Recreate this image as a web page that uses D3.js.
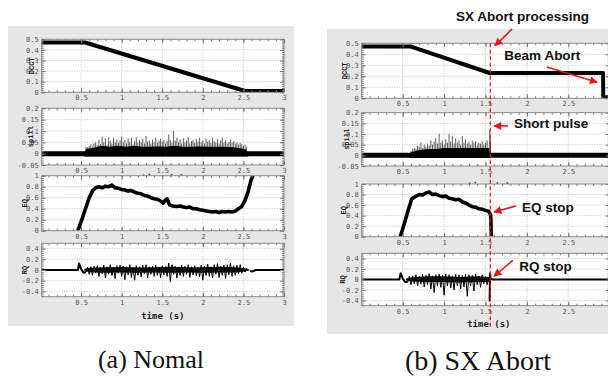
<!DOCTYPE html>
<html>
<head>
<meta charset="utf-8">
<script src="https://cdn.jsdelivr.net/npm/d3@7"></script>
<style>
  body { margin: 0; background: #fff; }
  svg { display: block; }
</style>
</head>
<body>
<svg id="chart" width="608" height="379"></svg>
<script>
// ---- tick labels ----
const timeTicks = [0.5, 1, 1.5, 2, 2.5, 3];
const dcctTicks = [0, 0.1, 0.2, 0.3, 0.4, 0.5];
const spillTicks = [-0.05, 0, 0.05, 0.1, 0.15, 0.2];
const eqTicks = [0, 0.2, 0.4, 0.6, 0.8, 1];
const rqTicks = [-0.4, -0.2, 0, 0.2, 0.4];

// ---- (a) normal extraction ----
const dcctA = [[0, 0.47], [0.55, 0.47], [2.52, 0.012], [3, 0.012]];
const spillBaseA = [[0, 0], [3, 0]];
const spillCoreA = [[0.54, 0], [0.56, 0.02], [0.65, 0.025], [0.75, 0.035], [0.85, 0.03], [0.95, 0.035], [1.05, 0.03], [1.15, 0.035], [1.25, 0.03], [1.35, 0.03], [1.45, 0.032], [1.55, 0.03], [1.65, 0.035], [1.75, 0.03], [1.85, 0.03], [1.95, 0.032], [2.05, 0.03], [2.15, 0.03], [2.25, 0.03], [2.35, 0.028], [2.45, 0.025], [2.53, 0.018], [2.56, 0]];
const spillPeakStartA = 0.56; // s, one peak every 0.02 s
const spillPeakA = [
  0.03, 0.028, 0.035, 0.04, 0.032, 0.045, 0.05, 0.038, 0.06, 0.042,
  0.075, 0.05, 0.068, 0.04, 0.072, 0.055, 0.045, 0.07, 0.05, 0.062,
  0.048, 0.058, 0.075, 0.05, 0.06, 0.045, 0.068, 0.052, 0.07, 0.04,
  0.055, 0.072, 0.048, 0.06, 0.05, 0.065, 0.045, 0.078, 0.052, 0.058,
  0.045, 0.062, 0.05, 0.07, 0.048, 0.058, 0.065, 0.052, 0.06, 0.045,
  0.055, 0.085, 0.06, 0.048, 0.1, 0.058, 0.07, 0.05, 0.062, 0.045,
  0.068, 0.05, 0.058, 0.072, 0.045, 0.055, 0.06, 0.048, 0.065, 0.052,
  0.07, 0.05, 0.058, 0.045, 0.066, 0.052, 0.06, 0.048, 0.07, 0.055,
  0.05, 0.065, 0.045, 0.058, 0.07, 0.05, 0.06, 0.045, 0.052, 0.062,
  0.048, 0.055, 0.045, 0.05, 0.04, 0.048, 0.042, 0.035, 0.04, 0.03
];
const eqA = [[0.46, 0], [0.5, 0.16], [0.55, 0.38], [0.6, 0.6], [0.64, 0.72], [0.68, 0.78], [0.72, 0.8], [0.76, 0.78], [0.8, 0.81], [0.84, 0.8], [0.88, 0.83], [0.92, 0.78], [0.96, 0.77], [1.0, 0.75], [1.04, 0.74], [1.08, 0.72], [1.12, 0.73], [1.16, 0.7], [1.2, 0.68], [1.24, 0.67], [1.28, 0.64], [1.32, 0.63], [1.36, 0.6], [1.4, 0.58], [1.44, 0.57], [1.48, 0.54], [1.51, 0.5], [1.54, 0.56], [1.56, 0.58], [1.59, 0.47], [1.63, 0.45], [1.68, 0.44], [1.72, 0.45], [1.76, 0.43], [1.8, 0.42], [1.84, 0.43], [1.88, 0.4], [1.92, 0.4], [1.96, 0.38], [2.0, 0.37], [2.04, 0.36], [2.08, 0.35], [2.12, 0.34], [2.16, 0.35], [2.2, 0.33], [2.24, 0.35], [2.28, 0.34], [2.32, 0.35], [2.36, 0.34], [2.4, 0.36], [2.44, 0.4], [2.48, 0.44], [2.52, 0.55], [2.56, 0.72], [2.59, 0.9], [2.62, 1.02]];
const rqHeadA = [[0, 0], [0.46, 0], [0.475, 0.12], [0.5, 0.02], [0.53, -0.05], [0.56, -0.04]];
const rqCoreA = [[0.54, -0.02, 0.02], [0.6, -0.04, 0.04], [0.8, -0.05, 0.05], [1.0, -0.045, 0.055], [1.2, -0.05, 0.045], [1.4, -0.045, 0.05], [1.6, -0.05, 0.06], [1.8, -0.045, 0.05], [2.0, -0.05, 0.05], [2.2, -0.045, 0.06], [2.4, -0.045, 0.05], [2.52, -0.03, 0.03], [2.57, -0.01, 0.01]];
const rqOscStartA = 0.56; // s, one sample every 0.02 s
const rqOscA = [
  -0.04, 0.05, -0.08, 0.06, -0.1, 0.07, -0.06, 0.08, -0.12, 0.05,
  -0.07, 0.09, -0.15, 0.06, -0.08, 0.1, -0.1, 0.05, -0.16, 0.08,
  -0.06, 0.09, -0.12, 0.07, -0.18, 0.06, -0.09, 0.1, -0.14, 0.05,
  -0.19, 0.08, -0.1, 0.06, -0.13, 0.09, -0.07, 0.1, -0.15, 0.06,
  -0.08, 0.07, -0.12, 0.09, -0.1, 0.05, -0.14, 0.08, -0.09, 0.06,
  -0.12, 0.13, -0.22, 0.1, -0.08, 0.07, -0.15, 0.06, -0.1, 0.09,
  -0.12, 0.07, -0.08, 0.1, -0.14, 0.06, -0.09, 0.08, -0.11, 0.05,
  -0.13, 0.09, -0.19, 0.07, -0.1, 0.11, -0.12, 0.06, -0.15, 0.1,
  -0.08, 0.12, -0.14, 0.07, -0.1, 0.09, -0.16, 0.1, -0.09, 0.13,
  -0.12, 0.08, -0.1, 0.09, -0.07, 0.1, -0.06, 0.05, -0.04, 0.03, -0.02
];
const rqTailA = [[2.58, -0.02], [2.61, -0.03], [2.65, 0], [3, 0]];

// ---- (b) SX abort ----
const dcctB = [[0, 0.47], [0.6, 0.47], [1.55, 0.23], [2.92, 0.23], [2.922, 0.01], [3, 0.01]];
const spillBaseB = [[0, 0], [3, 0]];
const spillCoreB = [[0.58, 0], [0.6, 0.015], [0.7, 0.025], [0.8, 0.03], [0.9, 0.03], [1.0, 0.035], [1.1, 0.035], [1.2, 0.035], [1.3, 0.035], [1.4, 0.035], [1.5, 0.035], [1.545, 0.035], [1.55, 0]];
const spillPeakStartB = 0.6; // s, one peak every 0.02 s
const spillPeakB = [
  0.02, 0.03, 0.035, 0.03, 0.045, 0.04, 0.06, 0.035, 0.05, 0.04,
  0.055, 0.045, 0.07, 0.05, 0.065, 0.08, 0.055, 0.1, 0.06, 0.07,
  0.05, 0.075, 0.06, 0.1, 0.065, 0.09, 0.055, 0.08, 0.06, 0.07,
  0.05, 0.09, 0.06, 0.075, 0.055, 0.065, 0.05, 0.07, 0.06, 0.065,
  0.05, 0.06, 0.055, 0.065, 0.05, 0.06, 0.07
];
const spillPulseB = [[1.552, 0.12], [1.556, 0.09], [1.56, 0.06]];
const eqB = [[0.47, 0], [0.52, 0.25], [0.57, 0.52], [0.61, 0.72], [0.65, 0.76], [0.7, 0.8], [0.74, 0.79], [0.78, 0.83], [0.82, 0.85], [0.86, 0.8], [0.9, 0.81], [0.94, 0.78], [0.98, 0.76], [1.02, 0.77], [1.06, 0.73], [1.1, 0.72], [1.14, 0.7], [1.18, 0.71], [1.22, 0.66], [1.26, 0.64], [1.3, 0.6], [1.34, 0.57], [1.38, 0.56], [1.42, 0.53], [1.46, 0.52], [1.5, 0.5], [1.54, 0.48], [1.56, 0.42], [1.565, 0.35], [1.57, 0]];
const rqHeadB = [[0, 0], [0.46, 0], [0.475, 0.12], [0.5, 0.02], [0.53, -0.05], [0.56, -0.05]];
const rqCoreB = [[0.54, -0.02, 0.02], [0.6, -0.04, 0.04], [0.8, -0.05, 0.06], [1.0, -0.05, 0.06], [1.2, -0.055, 0.05], [1.4, -0.05, 0.06], [1.54, -0.045, 0.05], [1.56, -0.01, 0.01]];
const rqOscStartB = 0.56;
const rqOscB = [
  -0.05, 0.06, -0.1, 0.07, -0.08, 0.09, -0.12, 0.06, -0.09, 0.1,
  -0.14, 0.08, -0.1, 0.11, -0.18, 0.07, -0.25, 0.09, -0.12, 0.1,
  -0.15, 0.08, -0.3, 0.1, -0.12, 0.09, -0.16, 0.07, -0.2, 0.1,
  -0.12, 0.09, -0.18, 0.08, -0.14, 0.1, -0.32, 0.09, -0.12, 0.08,
  -0.22, 0.1, -0.1, 0.07, -0.15, 0.09, -0.08, 0.06, -0.1, 0.05
];
const rqTailB = [[1.55, -0.42], [1.555, 0.12], [1.56, 0.03], [1.58, 0], [3, 0]];
const abortTime = 1.558;

const notesB = [
  { row: 0, text: "SX Abort processing", t: 1.948, v: 0.705, anchor: "middle", from: [1.821, 0.63], to: [1.615, 0.478] },
  { row: 0, text: "Beam Abort", t: 1.728, v: 0.348, anchor: "start", from: [2.24, 0.285], to: [2.848, 0.145] },
  { row: 1, text: "Short pulse", t: 1.845, v: 0.127, anchor: "start", from: [1.772, 0.138], to: [1.603, 0.138] },
  { row: 2, text: "EQ stop", t: 1.942, v: 0.474, anchor: "start", from: [1.869, 0.583], to: [1.603, 0.468] },
  { row: 3, text: "RQ stop", t: 1.909, v: 0.162, anchor: "start", from: [1.829, 0.364], to: [1.603, 0.062] }
];

// turn a start time + sample list into [t, v] pairs (0.02 s sampling)
const sampled = (t0, vals) => vals.map((v, i) => [t0 + i * 0.02, v]);

const svg = d3.select("#chart");
const defs = svg.append("defs");
defs.append("marker")
    .attr("id", "arrow")
    .attr("viewBox", "0 0 10 10")
    .attr("refX", 9).attr("refY", 5)
    .attr("markerUnits", "userSpaceOnUse")
    .attr("markerWidth", 9).attr("markerHeight", 8)
    .attr("orient", "auto")
  .append("path")
    .attr("d", "M0,0L10,5L0,10z")
    .attr("fill", "#e8151b");

const panels = [
  {
    id: "a", bg: [8, 26, 286, 300], xDom: [0.015, 3], xRange: [41.7, 284],
    caption: "(a) Nomal", capX: 151, capY: 368, capSize: 26,
    rows: [
      { name: "DCCT", dom: [0, 0.5], ticks: dcctTicks, px: [92.3, 39.3], titleX: 34,
        series: [{ kind: "line", data: dcctA, w: 4 }] },
      { name: "spill", dom: [-0.05, 0.2], ticks: spillTicks, px: [165, 108.3], titleX: 33, hiddenTime: 16,
        series: [
          { kind: "spikes", data: sampled(spillPeakStartA, spillPeakA) },
          { kind: "core", data: spillCoreA },
          { kind: "line", data: spillBaseA, w: 5 }
        ] },
      { name: "EQ", dom: [0, 1], ticks: eqTicks, px: [230.7, 175.7], titleX: 27,
        series: [{ kind: "line", data: eqA, w: 3.6 }] },
      { name: "RQ", dom: [-0.5, 0.5], ticks: rqTicks, px: [296.7, 243.3], titleX: 27, time: 22,
        series: [
          { kind: "line", data: rqHeadA, w: 2 },
          { kind: "band", data: rqCoreA },
          { kind: "line", data: sampled(rqOscStartA, rqOscA), w: 1 },
          { kind: "line", data: rqTailA, w: 2 }
        ] }
    ]
  },
  {
    id: "b", bg: [327, 29, 300, 305], xDom: [0.005, 3], xRange: [361.7, 609.7],
    caption: "(b) SX Abort", capX: 478, capY: 370, capSize: 28,
    rows: [
      { name: "DCCT", dom: [0, 0.5], ticks: dcctTicks, px: [98.3, 43.3], titleX: 347,
        series: [{ kind: "line", data: dcctB, w: 4 }] },
      { name: "spill", dom: [-0.05, 0.2], ticks: spillTicks, px: [166, 112.7], titleX: 349, hiddenTime: 22.5,
        series: [
          { kind: "spikes", data: sampled(spillPeakStartB, spillPeakB) },
          { kind: "spikes", data: spillPulseB },
          { kind: "core", data: spillCoreB },
          { kind: "line", data: spillBaseB, w: 5 }
        ] },
      { name: "EQ", dom: [0, 1], ticks: eqTicks, px: [236.7, 184], titleX: 346,
        series: [{ kind: "line", data: eqB, w: 3.6 }] },
      { name: "RQ", dom: [-0.5, 0.5], ticks: rqTicks, px: [305.7, 253.3], titleX: 345, time: 21,
        series: [
          { kind: "line", data: rqHeadB, w: 2 },
          { kind: "band", data: rqCoreB },
          { kind: "line", data: sampled(rqOscStartB, rqOscB), w: 1 },
          { kind: "line", data: rqTailB, w: 2 }
        ] }
    ]
  }
];

const tickFont = "'DejaVu Sans Mono', monospace";

panels.forEach(p => {
  const g = svg.append("g");
  g.append("rect")
   .attr("x", p.bg[0]).attr("y", p.bg[1])
   .attr("width", p.bg[2]).attr("height", p.bg[3])
   .attr("fill", "#e6e6e6");

  const x = d3.scaleLinear().domain(p.xDom).range(p.xRange);
  const minorX = d3.range(1, 30).map(i => i / 10);
  p.scales = [];

  p.rows.forEach((row, ri) => {
    const y = d3.scaleLinear().domain(row.dom).range(row.px);
    p.scales.push(y);
    const left = p.xRange[0], right = p.xRange[1];
    const top = row.px[1], bottom = row.px[0];
    const step = (row.ticks[1] - row.ticks[0]) / 5;
    const minorY = d3.range(Math.ceil(row.dom[0] / step), Math.floor(row.dom[1] / step) + 1)
                     .map(i => +(i * step).toFixed(4));

    const rg = g.append("g");
    rg.append("rect")
      .attr("x", left).attr("y", top)
      .attr("width", right - left).attr("height", bottom - top)
      .attr("fill", "#fff");

    // dotted grid
    rg.selectAll(".gx")
      .data(timeTicks.filter(t => t < 3))
      .enter().append("line")
      .attr("x1", d => x(d)).attr("x2", d => x(d))
      .attr("y1", top).attr("y2", bottom)
      .attr("stroke", "#b4b4b4").attr("stroke-width", 0.8)
      .attr("stroke-dasharray", "1,1.5");
    rg.selectAll(".gy")
      .data(row.ticks.filter(v => v > row.dom[0] && v < row.dom[1]))
      .enter().append("line")
      .attr("x1", left).attr("x2", right)
      .attr("y1", d => y(d)).attr("y2", d => y(d))
      .attr("stroke", "#b4b4b4").attr("stroke-width", 0.8)
      .attr("stroke-dasharray", "1,1.5");

    // data
    const clipId = `clip-${p.id}-${ri}`;
    defs.append("clipPath").attr("id", clipId)
      .append("rect")
      .attr("x", left).attr("y", top)
      .attr("width", right - left).attr("height", bottom - top);
    const dg = rg.append("g").attr("clip-path", `url(#${clipId})`);
    const line = d3.line().x(d => x(d[0])).y(d => y(d[1]));
    const core = d3.area().x(d => x(d[0])).y0(y(-0.012)).y1(d => y(d[1]));
    const band = d3.area().x(d => x(d[0])).y0(d => y(d[1])).y1(d => y(d[2]));

    row.series.forEach(s => {
      if (s.kind === "line") {
        dg.append("path")
          .attr("d", line(s.data))
          .attr("fill", "none")
          .attr("stroke", "#000")
          .attr("stroke-width", s.w)
          .attr("stroke-linejoin", "round");
      } else if (s.kind === "spikes") {
        dg.selectAll(null)
          .data(s.data)
          .enter().append("line")
          .attr("x1", d => x(d[0])).attr("x2", d => x(d[0]))
          .attr("y1", y(-0.012)).attr("y2", d => y(d[1]))
          .attr("stroke", "#333").attr("stroke-width", 0.8);
      } else if (s.kind === "core") {
        dg.append("path")
          .attr("d", core(s.data))
          .attr("fill", "#000");
      } else if (s.kind === "band") {
        dg.append("path")
          .attr("d", band(s.data))
          .attr("fill", "#111");
      }
    });

    // frame
    rg.append("rect")
      .attr("x", left).attr("y", top)
      .attr("width", right - left).attr("height", bottom - top)
      .attr("fill", "none").attr("stroke", "#8a8a8a").attr("stroke-width", 1);

    // axes with inward ticks
    const styleAxis = sel => {
      sel.select(".domain").remove();
      sel.selectAll("line").attr("stroke", "#777");
      sel.attr("font-family", tickFont).attr("font-size", 7);
      sel.selectAll("text").attr("fill", "#555");
    };
    rg.append("g").attr("transform", `translate(0,${bottom})`)
      .call(d3.axisBottom(x).tickValues(minorX).tickSize(-2).tickFormat("")).call(styleAxis);
    rg.append("g").attr("transform", `translate(0,${top})`)
      .call(d3.axisTop(x).tickValues(minorX).tickSize(-2).tickFormat("")).call(styleAxis);
    rg.append("g").attr("transform", `translate(0,${bottom})`)
      .call(d3.axisBottom(x).tickValues(timeTicks).tickSize(-4).tickPadding(3).tickFormat(d => String(d)))
      .call(styleAxis);
    rg.append("g").attr("transform", `translate(0,${top})`)
      .call(d3.axisTop(x).tickValues(timeTicks).tickSize(-4).tickFormat("")).call(styleAxis);
    rg.append("g").attr("transform", `translate(${left},0)`)
      .call(d3.axisLeft(y).tickValues(minorY).tickSize(-2).tickFormat("")).call(styleAxis);
    rg.append("g").attr("transform", `translate(${right},0)`)
      .call(d3.axisRight(y).tickValues(minorY).tickSize(-2).tickFormat("")).call(styleAxis);
    rg.append("g").attr("transform", `translate(${left},0)`)
      .call(d3.axisLeft(y).tickValues(row.ticks).tickSize(-4).tickPadding(3).tickFormat(d => String(d)))
      .call(styleAxis);
    rg.append("g").attr("transform", `translate(${right},0)`)
      .call(d3.axisRight(y).tickValues(row.ticks).tickSize(-4).tickFormat("")).call(styleAxis);

    // y title
    rg.append("text")
      .attr("transform", `translate(${row.titleX},${(top + bottom) / 2}) rotate(-90)`)
      .attr("text-anchor", "middle")
      .attr("font-family", "'Liberation Mono', monospace")
      .attr("font-weight", "bold")
      .attr("font-size", 7)
      .attr("fill", "#222")
      .text(row.name);

    // x title (the upper copies are mostly hidden by the next plot)
    const tOff = row.time || row.hiddenTime;
    if (tOff) {
      rg.append("text")
        .attr("x", (left + Math.min(right, 608)) / 2 + (p.id === "b" ? 4 : 0))
        .attr("y", bottom + tOff)
        .attr("text-anchor", "middle")
        .attr("font-family", tickFont)
        .attr("font-weight", "bold")
        .attr("font-size", 9)
        .attr("fill", "#222")
        .text("time (s)");
    }
  });

  svg.append("text")
    .attr("x", p.capX).attr("y", p.capY)
    .attr("text-anchor", "middle")
    .attr("font-family", "'Liberation Serif', 'Times New Roman', serif")
    .attr("font-size", p.capSize)
    .attr("fill", "#111")
    .text(p.caption);
});

// abort marker and annotations on panel (b)
const pb = panels[1];
const xb = d3.scaleLinear().domain(pb.xDom).range(pb.xRange);
svg.append("line")
  .attr("x1", xb(abortTime)).attr("x2", xb(abortTime))
  .attr("y1", pb.scales[0](0.5)).attr("y2", 327)
  .attr("stroke", "#e8151b").attr("stroke-width", 1.2)
  .attr("stroke-dasharray", "4,2.5");

notesB.forEach(n => {
  const y = pb.scales[n.row];
  svg.append("line")
    .attr("x1", xb(n.from[0])).attr("y1", y(n.from[1]))
    .attr("x2", xb(n.to[0])).attr("y2", y(n.to[1]))
    .attr("stroke", "#e8151b").attr("stroke-width", 1.6)
    .attr("marker-end", "url(#arrow)");
  svg.append("text")
    .attr("x", xb(n.t)).attr("y", y(n.v))
    .attr("text-anchor", n.anchor)
    .attr("font-family", "'Liberation Sans', Arial, sans-serif")
    .attr("font-weight", "bold")
    .attr("font-size", 13.5)
    .attr("fill", "#111")
    .text(n.text);
});
</script>
</body>
</html>
